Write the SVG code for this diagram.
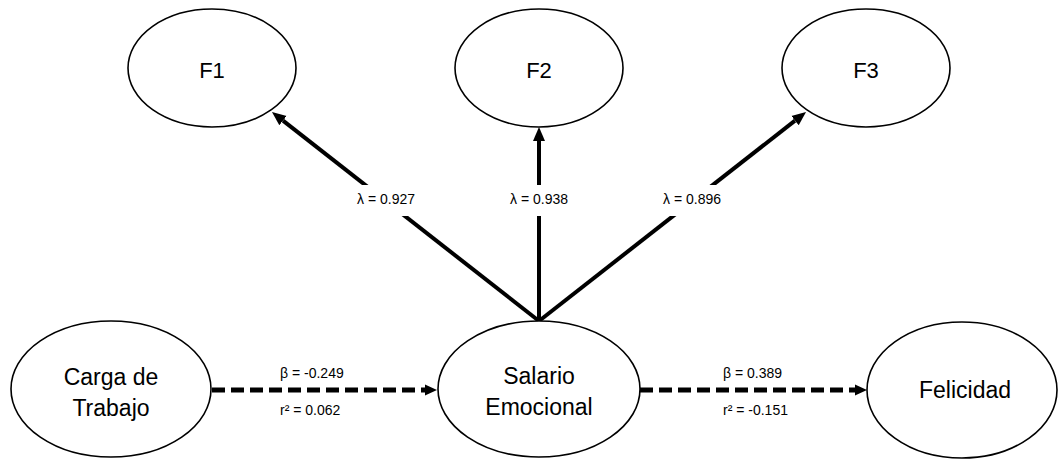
<svg xmlns="http://www.w3.org/2000/svg" width="1058" height="460" viewBox="0 0 1058 460">
  <style>
    .node { fill: #ffffff; stroke: #000000; stroke-width: 1.6; }
    .big { font-family: "Liberation Sans", Arial, sans-serif; font-size: 23px; fill: #000000; text-anchor: middle; }
    .top { font-family: "Liberation Sans", Arial, sans-serif; font-size: 22px; fill: #000000; text-anchor: middle; }
    .lbl { font-family: "Liberation Sans", Arial, sans-serif; font-size: 14px; fill: #000000; }
    .solid { stroke: #000000; stroke-width: 4; fill: none; }
    .dash { stroke: #000000; stroke-width: 5; fill: none; stroke-dasharray: 13 6; }
    .bg { fill: #ffffff; stroke: none; }
  </style>
  <defs>
    <marker id="arrow" markerUnits="userSpaceOnUse" markerWidth="16" markerHeight="14" refX="0" refY="7" orient="auto" viewBox="0 0 16 14">
      <path d="M0,1 L14,7 L0,13 Z" fill="#000000"/>
    </marker>
    <marker id="arrowSmall" markerUnits="userSpaceOnUse" markerWidth="14" markerHeight="12" refX="0" refY="6" orient="auto" viewBox="0 0 14 12">
      <path d="M0,0.5 L12,6 L0,11.5 Z" fill="#000000"/>
    </marker>
  </defs>
  <rect x="0" y="0" width="1058" height="460" fill="#ffffff"/>

  <g id="connectors">
    <line class="solid" x1="539" y1="321" x2="283" y2="120.6" marker-end="url(#arrow)"/>
    <line class="solid" x1="539" y1="321" x2="539" y2="141" marker-end="url(#arrow)"/>
    <line class="solid" x1="539" y1="321" x2="795" y2="120.6" marker-end="url(#arrow)"/>
    <line class="dash" x1="212" y1="390" x2="425" y2="390" marker-end="url(#arrowSmall)"/>
    <line class="dash" x1="640" y1="390" x2="855" y2="390" marker-end="url(#arrowSmall)"/>
    <g id="connector-labels">
      <rect class="bg" x="352" y="185" width="69" height="31"/>
      <text class="lbl" x="386" y="204" text-anchor="middle">λ = 0.927</text>
      <rect class="bg" x="505" y="185" width="69" height="31"/>
      <text class="lbl" x="539" y="204" text-anchor="middle">λ = 0.938</text>
      <rect class="bg" x="658" y="185" width="69" height="31"/>
      <text class="lbl" x="692" y="204" text-anchor="middle">λ = 0.896</text>
      <text class="lbl" x="280" y="378">β = -0.249</text>
      <text class="lbl" x="280" y="415">r² = 0.062</text>
      <text class="lbl" x="723" y="378">β = 0.389</text>
      <text class="lbl" x="723" y="415">r² = -0.151</text>
    </g>
  </g>

  <g id="F1">
    <ellipse class="node" cx="212" cy="68" rx="84" ry="59"/>
    <text class="top" x="212" y="78">F1</text>
  </g>
  <g id="F2">
    <ellipse class="node" cx="539" cy="68" rx="84" ry="59"/>
    <text class="top" x="539" y="78">F2</text>
  </g>
  <g id="F3">
    <ellipse class="node" cx="866" cy="68" rx="84" ry="59"/>
    <text class="top" x="866" y="78">F3</text>
  </g>
  <g id="carga">
    <ellipse class="node" cx="111" cy="389" rx="100" ry="68"/>
    <text class="big" x="111" y="385">Carga de</text>
    <text class="big" x="111" y="416">Trabajo</text>
  </g>
  <g id="salario">
    <ellipse class="node" cx="539" cy="389" rx="101" ry="68"/>
    <text class="big" x="539" y="384">Salario</text>
    <text class="big" x="539" y="415">Emocional</text>
  </g>
  <g id="felicidad">
    <ellipse class="node" cx="962" cy="390" rx="95" ry="68"/>
    <text class="big" x="965" y="398">Felicidad</text>
  </g>
</svg>
